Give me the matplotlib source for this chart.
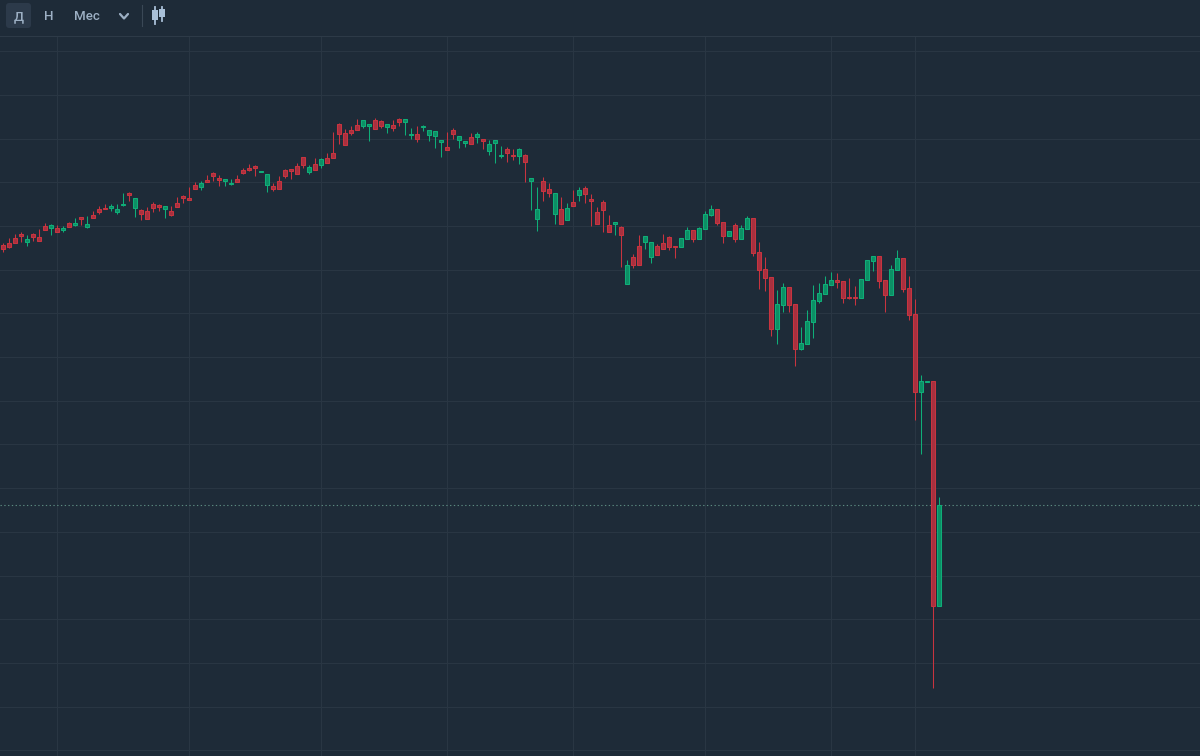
import matplotlib
matplotlib.use("Agg")
import matplotlib.pyplot as plt
from matplotlib.patches import FancyBboxPatch
import numpy as np

# Values (price levels on a screen-oriented scale: smaller = higher)
highs = [244,239,235,233,236,234,230,224,225,226,227,223,219,218,216.7,212,207,205,205,205,193.7,193,199,210,208,203,205,207,207,198,
         196,188,183,182,176,173,176,179.3,180,176,169,165,166,172,175,184,177,170,170,164,158,166,159,159,154,133,124,130,
         127,120,121,125,119,121,125,121,119,120,129,127,126,131,132,141,133,129,137,142,134,133,140,141,141,147,148,150,149,155,
         179,188,178,184,194,198,204,191,188,187,195,208,201,216,223,227,261,255,236,237,243,245,235,237,247,239,228,231,228,
         212,206,210,223,232,224,226,217,219,243,258,278,291,284,288,305,328,311,286,284,277,273,274,282,279,287,280,261,257,257,281,266,251,259,277,300,376,382,382,498]
body_tops = [246,244,238.3,235,240,235,237.3,227,225.3,228.3,229,224,224,218,225,216,210,209,207,210,205,194,199,211,212,205,206,207,212,204,
             197,199,186,184,181,174,179,179.3,184,180,171,169,167,172,175,187,182,171,170,167,158,168,165,160,159,154,125,134,
             131,126,121,125,121,122,125,126,120,120,135,135,126.7,131,132,141,148,131,137,142,138,135,140,145,141,156,150,156,150,156,
             179,210,182,190,194,210,209,203,191,189,200,213,203,226,223,228,266,258,247,237,243,247,244,238,247,239,231,231,229,
             215,210,210,223,232,226,229,219,219,253,270,278,305,288,288,305,344,322,301,294,285,281,281,282,298,298,280,261,257,257,281,270,259,259,289,315,382,382,382,505.5]
body_bottoms = [250,247.7,243.7,237,242.7,237.7,241.7,230.7,228.7,232.7,231,227.7,226,220,227.7,218.7,213,209.7,209,213,206,196,208.7,215,220,209,208,209.7,216,208,
                199,201,190,188,183,177,181,182,185,183,174,171,169,172.7,186,190,190,177,172,175,166,173,171,166,164,159,135,146,
                134,131,127,127,130,127,128,129,123,123,135.7,140,127.7,136,137,143,151,135,141,144,145,138,142,152,144,157,154,156.7,157,163,
                182,220,192,194,215,225,221,207,196,195,202,225,211,233,225,236,285,266,266,243,258,256,250,248,248,248,240,240,240,
                230,216,224,237,237,240,240,230,254,271,279,330,330,306,306,350,350,345,323,302,295,286,283,299,299,299,299,281,262,282,296,296,271,290,316,393,393,383,607,607]
lows = [252.7,248.3,243.7,243,247,242,242,230.7,235.7,233,233,228,227,226,229,219,215,210,212,215,207,202,218,221,220,213,212,219,217,208,
        204,201,190,191,183,182,187,187,186,183,175,172,177,172.7,193,192,190,179,180,175,169,175,171,169,164,159,145,146,
        136,131,129,142,130,129,134,132,127,136,140,143,132,142,149,158,151,140,149,148,145,144,150,156,164,159,163,161,165,183,
        211,232,202,198,225,225,221,207,202,204,227,225,233,233,236,268,285,269,266,250,264,256,250,251,259,248,240,243,240,
        230,217,226,244,237,243,240,230,257,290,292,337,345,313,313,367,351,345,339,304,295,286,289,304,300,306,299,281,272,289,313,296,271,293,321,421,455,383,689,607]
# indices of the falling (red) candles; all others rise (green)
red_idx = [0,1,2,3,5,6,7,9,11,13,15,16,17,21,23,24,25,26,28,29,30,31,32,34,35,36,39,40,41,42,45,46,47,48,49,50,52,54,55,56,57,
           58,59,62,63,65,66,69,74,75,78,80,84,85,87,90,91,93,95,97,98,99,100,101,103,105,106,109,110,111,112,115,
           119,120,122,125,126,127,128,131,132,139,140,141,142,146,147,150,151,152,155]

grid_x_idx = [9, 31, 53, 74, 95, 117, 138, 152]
grid_levels = [51.5, 95.5, 139.3, 183, 226.7, 270.4, 314.1, 357.8, 401.5, 445.2, 488.9, 532.6, 576.3, 620, 663.7, 707.4, 751]
last_price = 506
buttons = ["Д", "Н", "Мес"]

BG = "#1e2b38"
GRID = "#293643"
RED_E, RED_F = "#c8343f", "#a8303f"
GRN_E, GRN_F = "#0fae78", "#0c8f65"
TXT = "#9db0c4"

n = len(highs)
x = np.arange(n)
colors_e = [RED_E if i in red_idx else GRN_E for i in x]
colors_f = [RED_F if i in red_idx else GRN_F for i in x]

fig = plt.figure(figsize=(12, 7.56), dpi=100, facecolor=BG)
ax = fig.add_axes([0, 0, 1, 1], facecolor=BG)
ax.set_xlim(-0.55, 199.45)
ax.set_ylim(756.7, 0.7)
ax.axis("off")

ax.hlines(grid_levels, -1, 200, color=GRID, lw=0.8, zorder=1)
ax.vlines(grid_x_idx, 37, 758, color=GRID, lw=0.8, zorder=1)
ax.axhline(last_price, color="#5c8a80", lw=0.8, ls=(0, (1.2, 2.2)), zorder=1.5)

ax.vlines(x, highs, lows, colors=colors_e, lw=0.75, zorder=2)
t = np.array(body_tops, float)
b = np.array(body_bottoms, float)
ax.bar(x, b - t, bottom=t, width=4 / 6, color=colors_f, edgecolor=colors_e, linewidth=0.75, zorder=3)

# toolbar, drawn in pixel coordinates
tb = fig.add_axes([0, 0, 1, 1], facecolor="none")
tb.set_xlim(0, 1200)
tb.set_ylim(756, 0)
tb.axis("off")
tb.axhline(35.8, color="#2d3a47", lw=0.8)
tb.add_patch(FancyBboxPatch((8, 5), 21, 21, boxstyle="round,pad=2,rounding_size=3", fc="#2c3a4a", ec="none"))
for label, px in zip(buttons, [18.5, 49, 87]):
    tb.text(px, 16.3, label, color=TXT, fontsize=9.6, family="Roboto", weight="medium", ha="center", va="center")
tb.plot([120, 124, 128], [14, 18.5, 14], color=TXT, lw=1.6, solid_capstyle="round", solid_joinstyle="round")
tb.plot([141.5, 141.5], [5, 26], color="#3a4856", lw=0.8)
for px, hi, top, bot, lo in [(155, 7, 10, 20, 24), (162, 7, 9, 17, 21)]:
    tb.plot([px, px], [hi, lo], color="#a9c0d8", lw=1.3)
    tb.fill_between([px - 2.8, px + 2.8], top, bot, color="#a9c0d8", lw=0)

fig.savefig("out.png", dpi=100, facecolor=BG)
